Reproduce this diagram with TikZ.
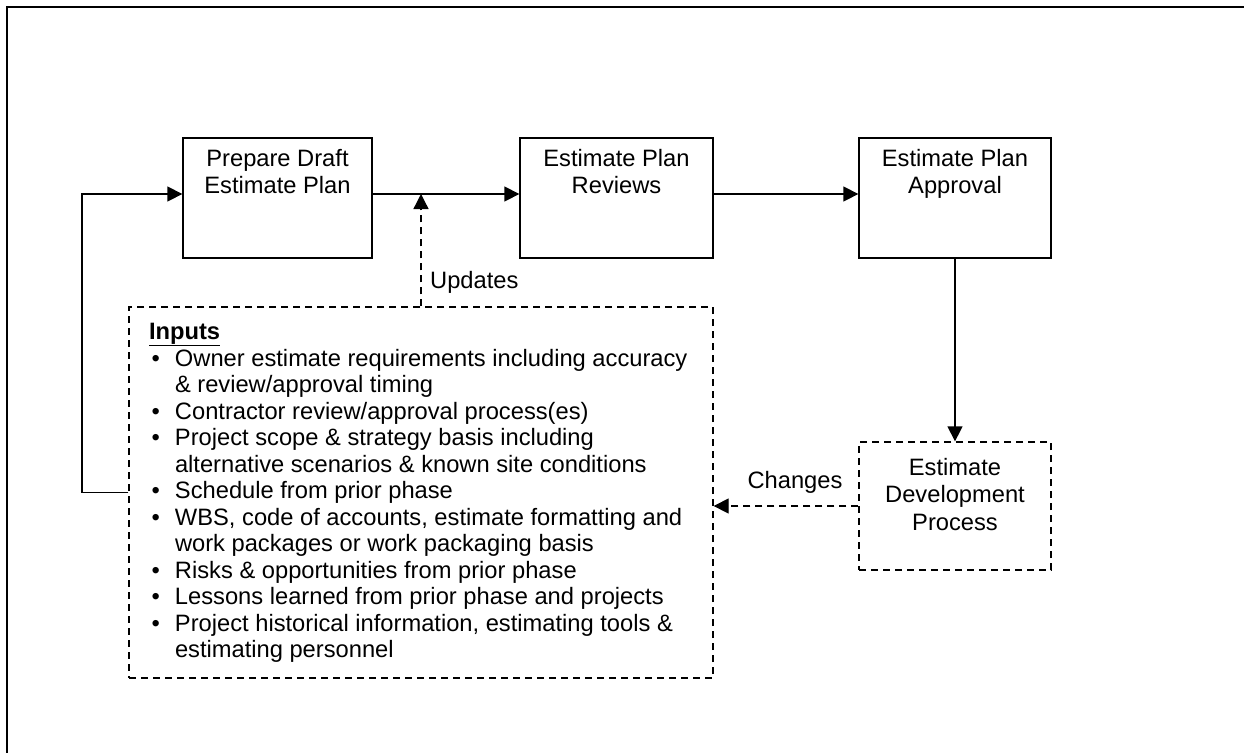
\documentclass[tikz,border=0pt]{standalone}
\usepackage{fontspec}
\setmainfont{Liberation Sans}
\usetikzlibrary{arrows.meta}
\newcommand{\mybul}{\makebox[26pt][l]{\hspace{2.5pt}\textbullet}}
\newcommand{\myind}{\hspace*{26pt}}
\newcommand{\boxt}[4]{\begin{minipage}[c][#2][t]{#1}\centering\rule{0pt}{#3}#4\end{minipage}}
\begin{document}
\begin{tikzpicture}[x=1pt,y=-1pt,
  txt/.style={font=\fontsize{23.7pt}{27.5pt}\selectfont},
  solidbox/.style={draw, line width=1.3pt, inner sep=0pt, txt},
  dashbox/.style={solidbox, dash pattern=on 7pt off 5pt},
  arr/.style={line width=1.3pt, -{Triangle[length=15pt,width=15pt]}},
  darr/.style={arr, dash pattern=on 7pt off 5pt}]
\useasboundingbox (0,0) rectangle (1244,753);
\draw[line width=2pt] (1244,7) -- (7,7) -- (7,753);

\node[solidbox] (b1) at (277.5,198) {\boxt{189pt}{120pt}{28pt}{Prepare Draft\\Estimate Plan}};
\node[solidbox] (b2) at (616.5,198) {\boxt{193pt}{120pt}{28pt}{Estimate Plan\\Reviews}};
\node[solidbox] (b3) at (955,198) {\boxt{192pt}{120pt}{28pt}{Estimate Plan\\Approval}};
\node[dashbox] (b4) at (955,506) {\boxt{192pt}{128pt}{33pt}{Estimate\\Development\\Process}};

\node[dashbox] (inp) at (421,492.5) {\begin{minipage}[c][371pt][t]{584pt}\fontsize{23.7pt}{26.5pt}\selectfont\raggedright\leftskip=20pt\rule{0pt}{32pt}\underline{\textbf{Inputs}}\\[0.5pt]
\mybul Owner estimate requirements including accuracy\\
\myind\& review/approval timing\\
\mybul Contractor review/approval process(es)\\
\mybul Project scope \& strategy basis including\\
\myind alternative scenarios \& known site conditions\\
\mybul Schedule from prior phase\\
\mybul WBS, code of accounts, estimate formatting and\\
\myind work packages or work packaging basis\\
\mybul Risks \& opportunities from prior phase\\
\mybul Lessons learned from prior phase and projects\\
\mybul Project historical information, estimating tools \&\\
\myind estimating personnel\end{minipage}};

\node[txt, anchor=west, inner sep=0pt] (upd) at (430,282) {Updates};
\node[txt, inner sep=0pt] (chg) at (795,482) {Changes};

\coordinate (u) at (421,194);
\coordinate (lp) at (82,0);

\draw[arr] ([yshift=4pt]b1.east) -- ([yshift=4pt]b2.west);
\draw[arr] ([yshift=4pt]b2.east) -- ([yshift=4pt]b3.west);
\draw[arr] (b3.south) -- (b4.north);
\draw[darr] (b4.west) -- (b4.west -| inp.east);
\draw[darr] (inp.north -| u) -- (u);
\draw[arr] (inp.west) -- (inp.west -| lp) |- ([yshift=4pt]b1.west);
\end{tikzpicture}
\end{document}
